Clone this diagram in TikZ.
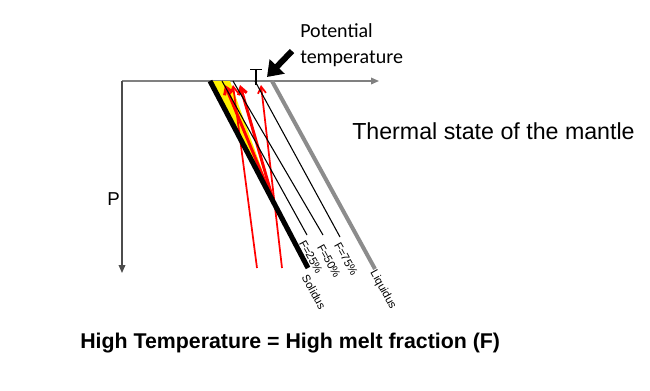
\documentclass[tikz,border=0pt]{standalone}
\usepackage{fontspec}
\setmainfont{Liberation Sans}
\newfontfamily\calibri{Carlito}
\usepackage{tikz}
\usetikzlibrary{arrows.meta, positioning, calc}
\tikzstyle{axis} = [line width=1pt, -{Triangle[length=6pt,width=5pt]}]
\tikzstyle{solidus} = [line width=3.8pt, draw=black]
\tikzstyle{liquidus} = [line width=3pt, draw=black!45]
\tikzstyle{meltline} = [line width=0.8pt, draw=black]
\tikzstyle{adiabat} = [line width=1.3pt, draw=red, -{Straight Barb[length=5pt,width=6pt]}]
\tikzstyle{meltpath} = [line width=2.2pt, draw=red, -{Straight Barb[length=5pt,width=6.5pt]}]
\tikzstyle{flabel} = [rotate=-61, inner sep=0pt, font=\fontsize{8.5}{9}\selectfont]
\tikzstyle{bigarrow} = [line width=4.5pt, -{Triangle[length=11pt,width=15pt]}]

\begin{document}
\begin{tikzpicture}[x=0.75pt, y=-0.75pt]
\useasboundingbox (0,0) rectangle (650,390);

% Axes
\coordinate (O) at (122,81);
\coordinate (Tend) at (379,81);
\coordinate (Pend) at (122,273);
\draw [axis, draw=black!50] (O) -- (Tend);
\draw [axis, draw=black!70] (O) -- (Pend);
\node (plabel) [anchor=base west, inner sep=0pt, font=\fontsize{14}{16}\selectfont] at (107,205) {P};

% Curves
\coordinate (sol0) at (210,81);
\coordinate (sol1) at (308,268);
\coordinate (liq0) at (272,81);
\coordinate (liq1) at (375,269);
\coordinate (f25a) at (222,81);
\coordinate (f25b) at (307,235);
\coordinate (f50a) at (233,81);
\coordinate (f50b) at (323,235);
\coordinate (f75a) at (255,81);
\coordinate (f75b) at (340,237);

% Melting region
\coordinate (cross) at (274,203);
\fill [yellow] (sol0) -- (230,81) -- (cross) -- cycle;
\coordinate (topa) at (225,85);
\coordinate (topb) at (240,85);
\coordinate (adA0) at (257,268);
\coordinate (adA1) at (233,85);
\coordinate (adB0) at (282,268);
\coordinate (adB1) at (261,85);
\draw [meltpath] (cross) -- (topa);
\draw [meltpath] (cross) -- (topb);
\draw [adiabat] (adA0) -- (adA1);
\draw [adiabat] (adB0) -- (adB1);

\draw [meltline] (f25a) -- (f25b);
\draw [meltline] (f50a) -- (f50b);
\draw [meltline] (f75a) -- (f75b);
\draw [solidus] (sol0) -- (sol1);
\draw [liquidus] (liq0) -- (liq1);

\node (f25) [flabel] at (311,257) {F=25\%};
\node (f50) [flabel] at (329,261) {F=50\%};
\node (f75) [flabel] at (346,259) {F=75\%};
\node (sollabel) [flabel] at (314,292) {Solidus};
\node (liqlabel) [flabel] at (383,290) {Liquidus};

% Potential temperature
\coordinate (tp0) at (256,69);
\coordinate (tp1) at (256,85);
\draw [line width=1pt, {Bar[width=9pt]}-] (tp0) -- (tp1);
\node (pottemp) [anchor=north west, align=left, inner sep=0pt, font=\calibri\fontsize{15}{19.5}\selectfont] at (300,23) {Potential\\temperature};
\coordinate (pa0) at (292,51);
\coordinate (pa1) at (267,77);
\draw [bigarrow] (pa0) -- (pa1);

% Titles
\node (thermal) [anchor=base west, inner sep=0pt, font=\fontsize{17.4}{20}\selectfont] at (352,139) {Thermal state of the mantle};
\node (caption) [anchor=base west, inner sep=0pt, font=\bfseries\fontsize{16}{19}\selectfont] at (80,348) {High Temperature = High melt fraction (F)};

\end{tikzpicture}
\end{document}
